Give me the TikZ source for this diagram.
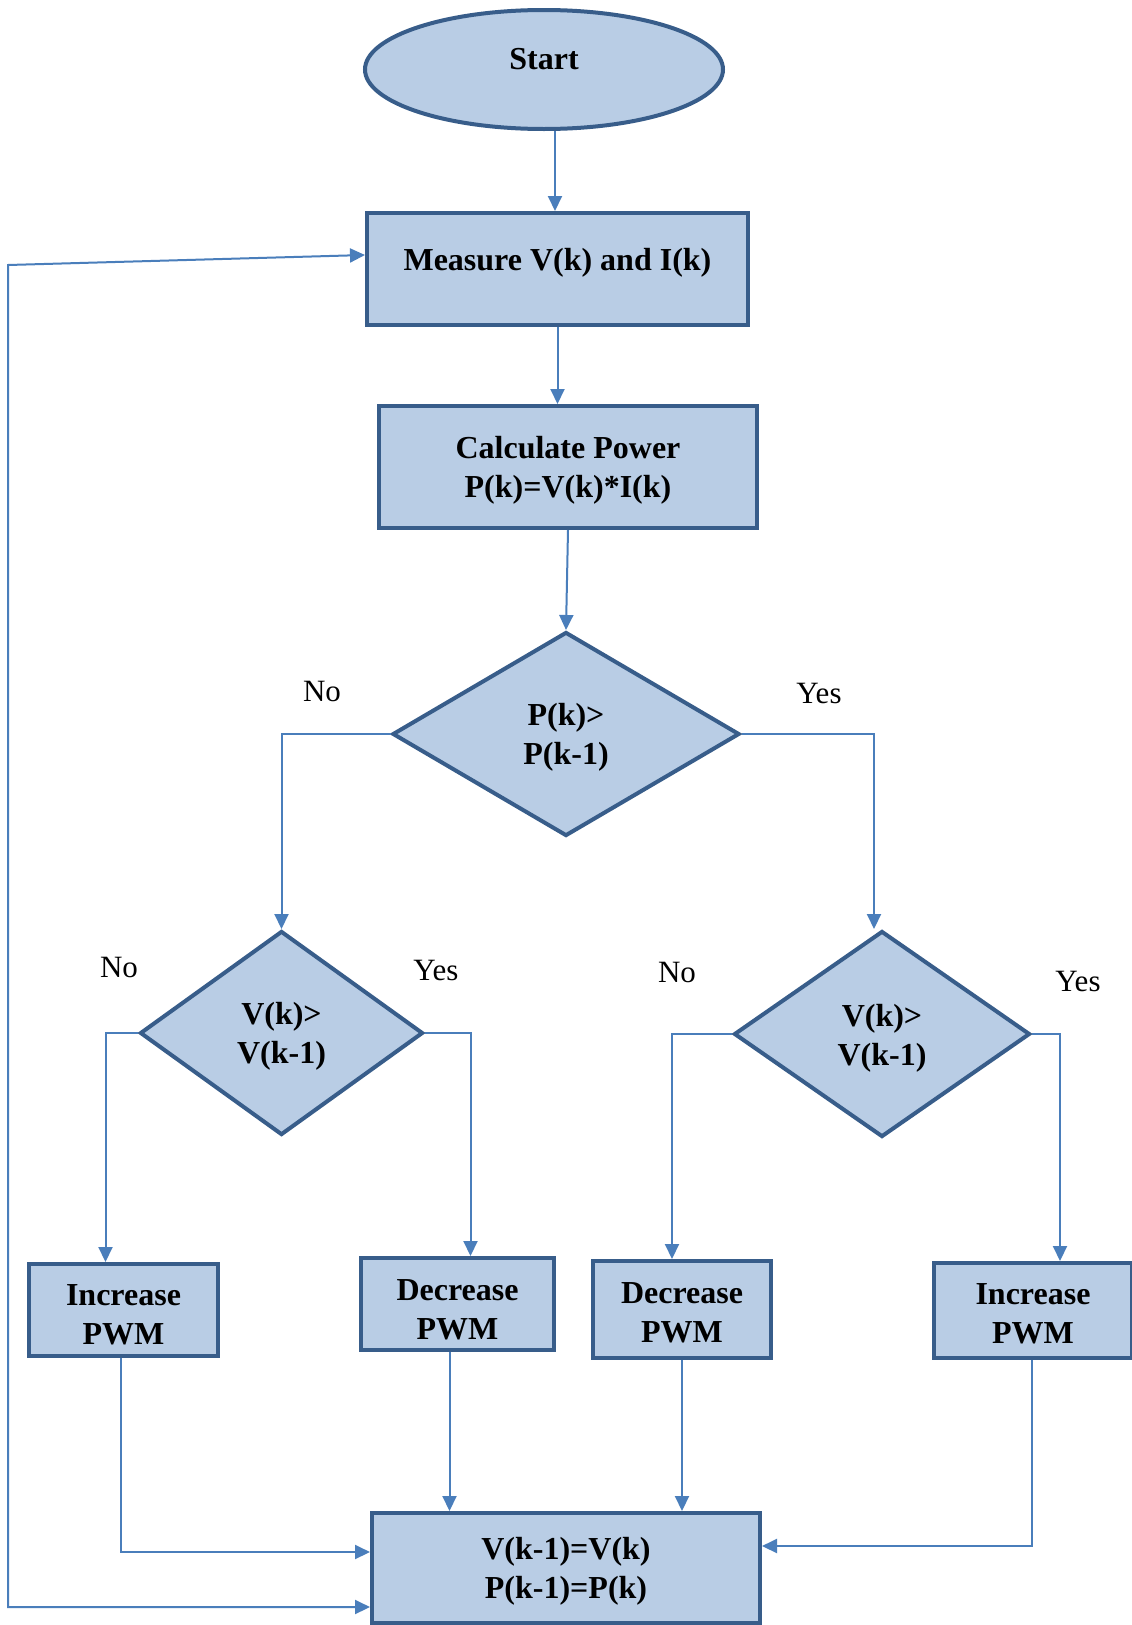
\documentclass[tikz,border=0pt]{standalone}
\usepackage{fontspec}
\setmainfont{Liberation Serif}
\usetikzlibrary{shapes.geometric,arrows.meta}
\definecolor{boxfill}{HTML}{B9CDE5}
\definecolor{boxline}{HTML}{385D8A}
\definecolor{connblue}{HTML}{4A7EBB}
\begin{document}
\begin{tikzpicture}[x=1pt,y=-1pt,
  shapebase/.style={draw=boxline, fill=boxfill, line width=4pt, inner sep=0pt,
    font=\fontsize{32}{39}\selectfont\bfseries, align=center},
  procbox/.style={shapebase, rectangle},
  decision/.style={shapebase, diamond},
  terminal/.style={shapebase, ellipse},
  twoline/.style={text depth=0pt, text height=#1},
  arr/.style={draw=connblue, line width=2pt, -{Triangle[length=15pt,width=14pt]}},
  arrboth/.style={draw=connblue, line width=2pt, {Triangle[length=15pt,width=14pt]}-{Triangle[length=15pt,width=14pt]}},
  lbl/.style={font=\fontsize{31}{37}\selectfont, inner sep=0pt}]
\fill[white] (0,0) rectangle (1132,1625);
\useasboundingbox (0,0) rectangle (1132,1625);

% shapes
\node[terminal, minimum width=358, minimum height=119] (start) at (544,69.5) {\raisebox{22pt}{Start}};
\node[procbox, minimum width=381, minimum height=112] (meas) at (557.5,269) {\raisebox{19pt}{Measure V(k) and I(k)}};
\node[procbox, minimum width=378, minimum height=122, twoline=60pt] (calc) at (568,467) {Calculate Power\\P(k)=V(k)*I(k)};
\node[decision, minimum width=347, minimum height=204, twoline=60pt] (d1) at (566,734) {P(k)>\\P(k-1)};
\node[decision, minimum width=283, minimum height=204, twoline=60pt] (d2) at (281.5,1033) {V(k)>\\V(k-1)};
\node[decision, minimum width=296, minimum height=206, twoline=62pt] (d3) at (882,1034) {V(k)>\\V(k-1)};
\node[procbox, minimum width=189, minimum height=92, twoline=68pt] (incL) at (123.5,1310) {Increase\\PWM};
\node[procbox, minimum width=193, minimum height=92, twoline=70pt] (decL) at (457.5,1304) {Decrease\\PWM};
\node[procbox, minimum width=178, minimum height=97, twoline=65pt] (decR) at (682,1309.5) {Decrease\\PWM};
\node[procbox, minimum width=198, minimum height=95, twoline=65pt] (incR) at (1033,1310.5) {Increase\\PWM};
\node[procbox, minimum width=388, minimum height=110, twoline=61pt] (final) at (566,1568) {V(k-1)=V(k)\\P(k-1)=P(k)};

% labels
\node[lbl] (no1) at (322,691) {No};
\node[lbl] (yes1) at (819,693) {Yes};
\node[lbl] (no2) at (119,967) {No};
\node[lbl] (yes2) at (436,970) {Yes};
\node[lbl] (no3) at (677,972) {No};
\node[lbl] (yes3) at (1078,981) {Yes};

% connectors
\draw[arr] ([xshift=11]start.south) -- ([xshift=11]start.south |- meas.north);
\draw[arr] (meas.south) -- (meas.south |- calc.north);
\draw[arr] (calc.south) -- (d1.north);
\draw[arr] (d1.west) -| (d2.north);
\draw[arr] (d1.east) -| ([xshift=-8]d3.north);
\draw[arr] (d2.west) -| ([xshift=-18]incL.north);
\draw[arr] (d2.east) -| ([xshift=13]decL.north);
\draw[arr] (d3.west) -| ([xshift=-10]decR.north);
\draw[arr] (d3.east) -| ([xshift=27]incR.north);
\draw[arr] ([xshift=-3]incL.south) |- ([yshift=16]final.west);
\draw[arr] ([xshift=-8]decL.south) -- ([xshift=-8]decL.south |- final.north);
\draw[arr] (decR.south) -- (decR.south |- final.north);
\draw[arr] ([xshift=-1]incR.south) |- ([yshift=22]final.east);
\coordinate (fbtop) at (8,265);
\coordinate (fbbot) at (8,1607);
\draw[arrboth] ([yshift=14]meas.west) -- (fbtop) -- (fbbot) -- ([yshift=-39]final.west);
\end{tikzpicture}
\end{document}
